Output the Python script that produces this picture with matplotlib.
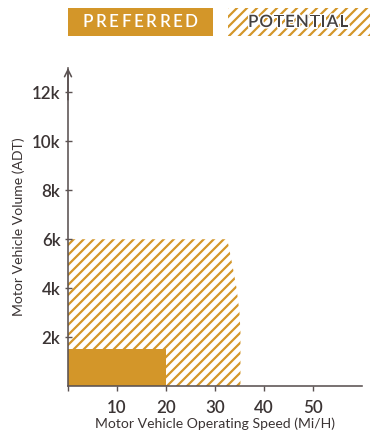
import matplotlib
matplotlib.use("Agg")
import matplotlib.pyplot as plt
import numpy as np
from matplotlib.patches import Rectangle, Polygon
from matplotlib.collections import LineCollection
from matplotlib.transforms import IdentityTransform
from matplotlib.ticker import FuncFormatter
from matplotlib.font_manager import FontProperties
from matplotlib import patheffects as pe

# data (volume in thousands ADT, speed in mi/h)
preferred_speed = 20
preferred_volume = 1.5
potential_speed = [0, 32.5, 33.5, 34.4, 35.0, 35.2, 35.2]
potential_volume = [6.0, 6.0, 5.0, 4.0, 3.0, 2.2, 0.0]
x_ticks = [0, 10, 20, 30, 40, 50]
y_ticks = [2, 4, 6, 8, 10, 12]
legend_labels = ["PREFERRED", "POTENTIAL"]

ORANGE = "#d39629"
AXIS = "#5b5252"
TEXT = "#3b3434"
DPI = 100
PT = 72 / DPI  # points per pixel

plt.rcParams["font.family"] = ["Lato", "DejaVu Sans"]

W, H = 371, 433
fig = plt.figure(figsize=(W / DPI, H / DPI), dpi=DPI)
ax = fig.add_axes([68 / W, 1 - 386 / H, (362 - 68) / W, (386 - 68) / H])
ax.set_xlim(0, 60)
ax.set_ylim(0, 13)


def diagonal_hatch(parent, clip, x0, y0, x1, y1, spacing=10, lw=2.2, z=1):
    # 45 degree stripes in pixel space, clipped to a patch
    segs = []
    for c in np.arange(y0 - x1, y1 - x0 + spacing, spacing):
        segs.append([(x0, x0 + c), (x1, x1 + c)])
    lc = LineCollection(segs, colors=ORANGE, linewidths=lw * PT,
                        transform=IdentityTransform(), zorder=z)
    parent.add_artist(lc)
    lc.set_clip_path(clip)
    return lc


# potential area (hatched), preferred area (solid) on top
pts = list(zip(potential_speed, potential_volume)) + [(0, 0)]
pot = Polygon(pts, closed=True, facecolor="none", edgecolor="none", zorder=1)
ax.add_patch(pot)
diagonal_hatch(ax, pot, 60, 40, 370, 250)
ax.add_patch(Rectangle((0, 0), preferred_speed, preferred_volume,
                       facecolor=ORANGE, edgecolor="none", zorder=2))

for s in ["top", "right"]:
    ax.spines[s].set_visible(False)
for s in ["left", "bottom"]:
    ax.spines[s].set_color(AXIS)
    ax.spines[s].set_linewidth(1.6 * PT)
    ax.spines[s].set_zorder(3)

tick_font = FontProperties(family=["Lato", "DejaVu Sans"], size=17 * PT,
                           weight="semibold")
ax.set_xticks(x_ticks)
ax.set_xticklabels(["" if v == 0 else str(v) for v in x_ticks])
ax.set_yticks(y_ticks)
ax.yaxis.set_major_formatter(FuncFormatter(lambda v, p: f"{int(v)}k"))
ax.tick_params(axis="x", direction="out", length=5 * PT, width=1.4 * PT,
               color=AXIS, labelcolor=TEXT, pad=9 * PT)
ax.tick_params(axis="y", direction="inout", length=7 * PT, width=1.4 * PT,
               color=AXIS, labelcolor=TEXT, pad=4 * PT)
for lab in ax.get_xticklabels() + ax.get_yticklabels():
    lab.set_fontproperties(tick_font)

ax.set_xlabel("Motor Vehicle Operating Speed (Mi/H)", fontsize=14 * PT,
              color=TEXT, labelpad=1 * PT)
ax.set_ylabel("Motor Vehicle Volume (ADT)", fontsize=14 * PT,
              color=TEXT, labelpad=7 * PT)

# open arrow head on top of y axis
ax.annotate("", xy=(0, 1.0), xycoords="axes fraction", xytext=(0, 0.9),
            arrowprops=dict(arrowstyle="->,head_length=0.5,head_width=0.25",
                            color=AXIS, lw=1.6 * PT, shrinkA=0, shrinkB=0),
            annotation_clip=False)

# legend boxes
fig.patches.append(Rectangle((68 / W, 1 - 36 / H), (213 - 68) / W, 28 / H,
                             transform=fig.transFigure, facecolor=ORANGE,
                             edgecolor="none"))
pot_box = Rectangle((228 / W, 1 - 36 / H), (370 - 228) / W, 28 / H,
                    transform=fig.transFigure, facecolor="none",
                    edgecolor="none")
fig.patches.append(pot_box)
diagonal_hatch(fig, pot_box, 220, H - 40, 375, H - 4)

renderer = fig.canvas.get_renderer()


def spaced_text(label, x0, x1, yc, color, halo=False):
    fp = FontProperties(family=["Lato", "DejaVu Sans"], size=17 * PT,
                        weight="semibold")
    widths = [renderer.get_text_width_height_descent(c, fp, ismath=False)[0]
              for c in label]
    gap = ((x1 - x0) - sum(widths)) / (len(label) - 1)
    x = x0
    for c, w in zip(label, widths):
        t = fig.text(x / W, 1 - yc / H, c, fontproperties=fp, color=color,
                     ha="left", va="center", zorder=5)
        if halo:
            t.set_path_effects([pe.withStroke(linewidth=3 * PT,
                                              foreground="white")])
        x += w + gap


spaced_text(legend_labels[0], 82, 198, 22, "white")
spaced_text(legend_labels[1], 248, 348, 22, "#444040", halo=True)

fig.savefig("out.png", dpi=DPI)
